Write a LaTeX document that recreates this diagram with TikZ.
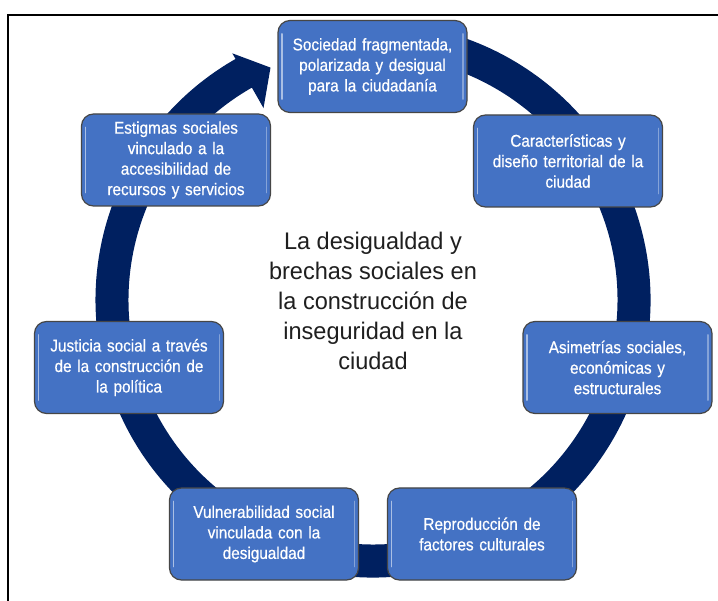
\documentclass[tikz,border=0pt]{standalone}
\usepackage{fontspec}
\setmainfont{Liberation Sans}
\newfontfamily\boxfont{Liberation Sans}[FakeStretch=0.9, FakeBold=0.6]
\newfontfamily\centerfont{Liberation Sans}[FakeStretch=0.98]
\definecolor{navy}{RGB}{0,32,96}
\definecolor{boxblue}{RGB}{68,114,196}
\definecolor{boxedge}{RGB}{70,70,70}
\begin{document}
\begin{tikzpicture}[x=1pt,y=-1pt,
  box/.style={draw=boxedge, line width=1.2pt, fill=boxblue, rounded corners=12pt,
    minimum width=189pt, minimum height=92pt, text width=182pt, align=center,
    text=white, font=\boxfont\fontsize{17}{20.5}\selectfont, inner sep=0pt},
  hilite/.style={white, opacity=0.55, line width=1.6pt, line cap=round}]
\useasboundingbox (0,0) rectangle (718,601);
\fill[white] (0,0) rectangle (718,601);
% frame (only top and left edges visible)
\draw[line width=1.6pt, black] (8,602) -- (8,15) -- (719,15);
% circular arrow
\begin{scope}[shift={(373,300)}, yscale=-1]
\fill[navy] (105:277.5) arc[start angle=105, end angle=-240.3, radius=277.5]
  -- (119.7:284) -- (113.8:254) -- (119.7:221) -- (119.7:244.5)
  arc[start angle=-240.3, end angle=105, radius=244.5] -- cycle;
\end{scope}
% boxes
\node[box] (top) at (372.5,66.5) {Sociedad fragmentada,\\polarizada y desigual\\para la ciudadanía};
\node[box] (car) at (568,161) {Características y\\diseño territorial de la\\ciudad};
\node[box] (est) at (176,160) {Estigmas sociales\\vinculado a la\\accesibilidad de\\recursos y servicios};
\node[box] (asi) at (617.5,367.5) {Asimetrías sociales,\\económicas y\\estructurales};
\node[box] (jus) at (129,367.5) {Justicia social a través\\de la construcción de\\la política};
\node[box] (vul) at (264,534) {Vulnerabilidad social\\vinculada con la\\desigualdad};
\node[box] (rep) at (482,534) {Reproducción de\\factores culturales};
\foreach \n in {top,car,est,asi,jus,vul,rep}{
  \draw[hilite] ([xshift=4.5pt,yshift=-14pt]\n.north west) -- ([xshift=4.5pt,yshift=14pt]\n.south west);
  \draw[hilite, opacity=0.35] ([xshift=-4.5pt,yshift=-14pt]\n.north east) -- ([xshift=-4.5pt,yshift=14pt]\n.south east);
}
% central text
\node[align=center, text=black!88, font=\centerfont\fontsize{24}{30}\selectfont] (center) at (373,301)
  {La desigualdad y\\brechas sociales en\\la construcción de\\inseguridad en la\\ciudad};
\end{tikzpicture}
\end{document}
